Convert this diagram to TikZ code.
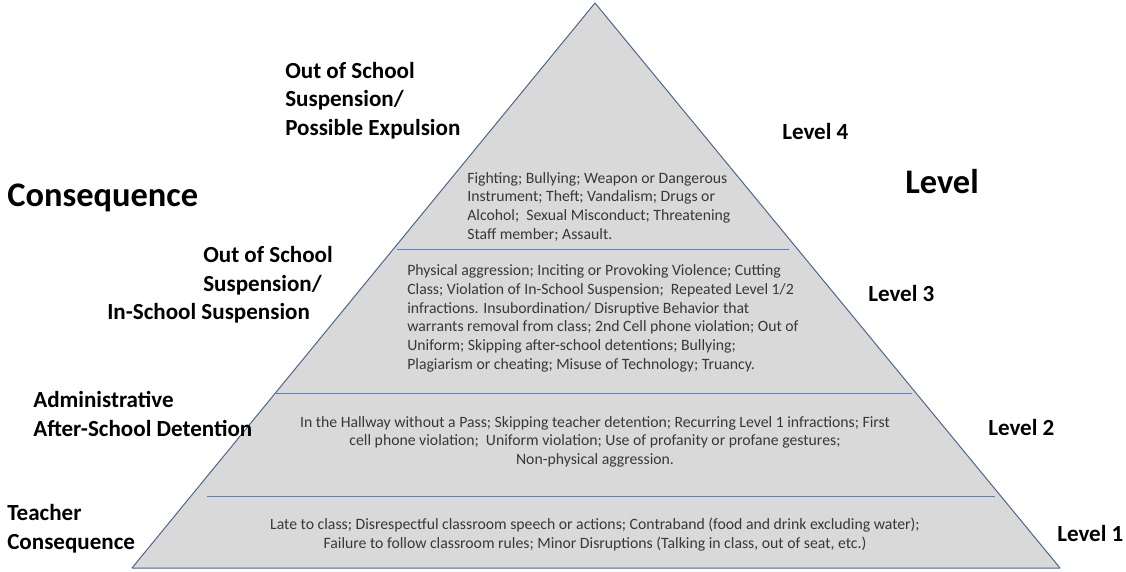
\documentclass[tikz,border=0pt]{standalone}
\usepackage{fontspec}
\setmainfont{Carlito}
\definecolor{pyrfill}{HTML}{D9D9D9}
\definecolor{pyredge}{HTML}{4A6591}
\definecolor{divline}{HTML}{5B7DC4}
\definecolor{infrtext}{HTML}{383838}
\tikzset{
  lvl/.style={font=\fontsize{16.4}{20.3}\selectfont\bfseries, inner sep=0pt},
  bigl/.style={font=\fontsize{24.5}{29}\selectfont\bfseries, inner sep=0pt},
  infr/.style={font=\fontsize{11.2}{13.3}\selectfont, text=infrtext, inner sep=0pt},
}
\begin{document}
\begin{tikzpicture}
\useasboundingbox (0,0) rectangle (28.15,14.275);

\draw[pyredge, fill=pyrfill, line width=0.7pt, line join=round] (3.3,0.075) -- (14.875,14.2) -- (26.5,0.075) -- cycle;

\draw[divline, line width=0.6pt] (9.925,8.05) -- (19.725,8.05);
\draw[divline, line width=0.6pt] (6.875,4.45) -- (22.8,4.45);
\draw[divline, line width=0.6pt] (5.175,1.875) -- (24.875,1.875);

% what happens at each level
\draw (11.675,9.975) node[infr, anchor=north west, align=left] (infrfour) {Fighting; Bullying; Weapon or Dangerous\\ Instrument; Theft; Vandalism; Drugs or\\ Alcohol;\ \ Sexual Misconduct; Threatening\\ Staff member; Assault.};
\draw (10.175,7.66) node[infr, anchor=north west, align=left] (infrthree) {Physical aggression; Inciting or Provoking Violence; Cutting\\ Class; Violation of In-School Suspension;\ \ Repeated Level 1/2\\ infractions. Insubordination/ Disruptive Behavior that\\ warrants removal from class; 2nd Cell phone violation; Out of\\ Uniform; Skipping after-school detentions; Bullying;\\ Plagiarism or cheating; Misuse of Technology; Truancy.};
\draw (14.875,3.875) node[infr, anchor=north, align=center] (infrtwo) {In the Hallway without a Pass; Skipping teacher detention; Recurring Level 1 infractions; First\\ cell phone violation;\ \ Uniform violation; Use of profanity or profane gestures;\\ Non-physical aggression.};
\draw (14.875,1.325) node[infr, anchor=north, align=center] (infrone) {Late to class; Disrespectful classroom speech or actions; Contraband (food and drink excluding water);\\ Failure to follow classroom rules; Minor Disruptions (Talking in class, out of seat, etc.)};

% consequences on the left
\draw[black] (0.175,9.325) node[bigl, anchor=west] (conshead) {Consequence};
\draw[black] (7.125,12.725) node[lvl, anchor=north west, align=left] (consfour) {Out of School\\ Suspension/\\ Possible Expulsion};
\draw[black] (2.675,8.125) node[lvl, anchor=north west, align=left] (consthree) {\hspace*{68.3pt}Out of School\\ \hspace*{68.3pt}Suspension/\\ In-School Suspension};
\draw[black] (0.825,4.5) node[lvl, anchor=north west, align=left] (constwo) {Administrative\\ After-School Detention};
\draw[black] (0.175,1.675) node[lvl, anchor=north west, align=left] (consone) {Teacher\\ Consequence};

% levels on the right
\draw[black] (22.625,9.725) node[bigl, anchor=west] (lvlhead) {Level};
\draw[black] (19.55,11.0) node[lvl, anchor=west] (lvlfour) {Level 4};
\draw[black] (21.7,6.95) node[lvl, anchor=west] (lvlthree) {Level 3};
\draw[black] (24.7,3.6) node[lvl, anchor=west] (lvltwo) {Level 2};
\draw[black] (26.425,0.95) node[lvl, anchor=west] (lvlone) {Level 1};
\end{tikzpicture}
\end{document}
